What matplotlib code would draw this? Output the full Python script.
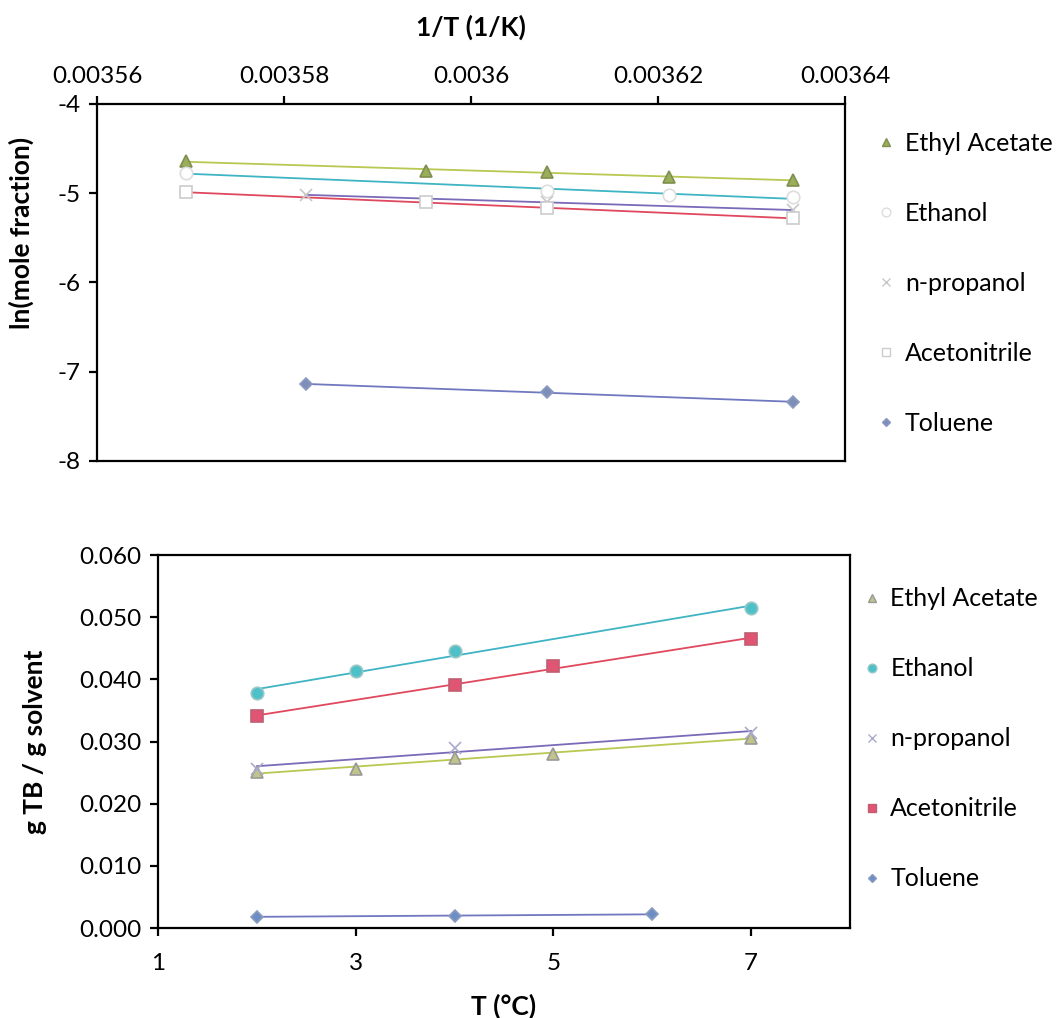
import numpy as np
import matplotlib
matplotlib.use('Agg')
import matplotlib.pyplot as plt
from matplotlib.lines import Line2D
from matplotlib.ticker import FormatStrFormatter

plt.rcParams['font.family'] = ['Lato', 'DejaVu Sans']
plt.rcParams['axes.unicode_minus'] = False

solvents = ['Ethyl Acetate', 'Ethanol', 'n-propanol', 'Acetonitrile', 'Toluene']

# top panel: ln(mole fraction) vs 1/T, temperatures in degC
top_temps = {
    'Ethyl Acetate': [7, 5, 4, 3, 2],
    'Ethanol': [7, 4, 3, 2],
    'n-propanol': [6, 4, 2],
    'Acetonitrile': [7, 5, 4, 2],
    'Toluene': [6, 4, 2],
}
top_ln = {
    'Ethyl Acetate': [-4.64, -4.75, -4.76, -4.82, -4.85],
    'Ethanol': [-4.77, -4.97, -5.02, -5.04],
    'n-propanol': [-5.02, -5.10, -5.19],
    'Acetonitrile': [-4.99, -5.10, -5.17, -5.28],
    'Toluene': [-7.14, -7.23, -7.34],
}

# bottom panel: g TB / g solvent vs T
bot_temps = {
    'Ethyl Acetate': [2, 3, 4, 5, 7],
    'Ethanol': [2, 3, 4, 7],
    'n-propanol': [2, 4, 7],
    'Acetonitrile': [2, 4, 5, 7],
    'Toluene': [2, 4, 6],
}
bot_sol = {
    'Ethyl Acetate': [0.0251, 0.0256, 0.0273, 0.0280, 0.0306],
    'Ethanol': [0.0378, 0.0413, 0.0446, 0.0515],
    'n-propanol': [0.0256, 0.0290, 0.0314],
    'Acetonitrile': [0.0341, 0.0391, 0.0421, 0.0465],
    'Toluene': [0.0018, 0.0020, 0.0022],
}

top_xticks = [0.00356, 0.00358, 0.0036, 0.00362, 0.00364]
top_xlabels = ['0.00356', '0.00358', '0.0036', '0.00362', '0.00364']

# marker styles (top / bottom), trendline colours
markers = {'Ethyl Acetate': '^', 'Ethanol': 'o', 'n-propanol': 'x',
           'Acetonitrile': 's', 'Toluene': 'D'}
line_col = {'Ethyl Acetate': '#b8c850', 'Ethanol': '#3fb4c4', 'n-propanol': '#7a6ab8',
            'Acetonitrile': '#e0485e', 'Toluene': '#7078c0'}
top_face = {'Ethyl Acetate': '#9aae5a', 'Ethanol': 'white', 'n-propanol': '#cccccc',
            'Acetonitrile': 'white', 'Toluene': '#7d8fb8'}
top_edge = {'Ethyl Acetate': '#7f8f50', 'Ethanol': '#dddddd', 'n-propanol': '#c8c8c8',
            'Acetonitrile': '#cccccc', 'Toluene': '#8d9ac0'}
bot_face = {'Ethyl Acetate': '#c0c38a', 'Ethanol': '#4ec0c8', 'n-propanol': '#bbbbcc',
            'Acetonitrile': '#e05474', 'Toluene': '#6d8ec4'}
bot_edge = {'Ethyl Acetate': '#999999', 'Ethanol': '#9ac8c8', 'n-propanol': '#aaaacc',
            'Acetonitrile': '#c06070', 'Toluene': '#8a9cc0'}
ms = {'Ethyl Acetate': 9, 'Ethanol': 9, 'n-propanol': 9, 'Acetonitrile': 8.5, 'Toluene': 6.5}

fig = plt.figure(figsize=(10.57, 10.18), dpi=100)
ax1 = fig.add_axes([0.0918, 0.5472, 0.7077, 0.3507])
ax2 = fig.add_axes([0.1495, 0.0884, 0.6547, 0.3664])

tick_fs = 17.5
leg_fs = 18
lab_fs = 19


def trend(ax, x, y, color):
    p = np.polyfit(x, y, 1)
    xs = np.array([min(x), max(x)])
    ax.plot(xs, np.polyval(p, xs), color=color, lw=1.3, zorder=2)


handles1 = []
for s in solvents:
    x = 1.0 / (np.array(top_temps[s]) + 273.15)
    y = np.array(top_ln[s])
    ax1.plot(x, y, ls='none', marker=markers[s], ms=ms[s], mfc=top_face[s],
             mec=top_edge[s], mew=1.2, zorder=3)
    trend(ax1, x, y, line_col[s])
    handles1.append(Line2D([], [], ls='none', marker=markers[s], ms=ms[s] * 0.7,
                           mfc=top_face[s], mec=top_edge[s], mew=1.0, label=s))

handles2 = []
for s in solvents:
    x = np.array(bot_temps[s], dtype=float)
    y = np.array(bot_sol[s])
    ax2.plot(x, y, ls='none', marker=markers[s], ms=ms[s], mfc=bot_face[s],
             mec=bot_edge[s], mew=1.2, zorder=3)
    trend(ax2, x, y, line_col[s])
    handles2.append(Line2D([], [], ls='none', marker=markers[s], ms=ms[s] * 0.7,
                           mfc=bot_face[s], mec=bot_edge[s], mew=1.0, label=s))

# top axes
ax1.set_xlim(0.00356, 0.00364)
ax1.set_ylim(-8, -4)
ax1.xaxis.tick_top()
ax1.xaxis.set_label_position('top')
ax1.set_xticks(top_xticks)
ax1.set_xticklabels(top_xlabels)
ax1.set_yticks([-4, -5, -6, -7, -8])
ax1.set_xlabel('1/T (1/K)', fontsize=lab_fs, fontweight='bold', labelpad=22)
ax1.set_ylabel('ln(mole fraction)', fontsize=lab_fs, fontweight='bold')
ax1.yaxis.set_label_coords(-0.084, 0.64)
ax1.legend(handles=handles1, loc='upper left', bbox_to_anchor=(1.03, 0.95),
           frameon=False, fontsize=leg_fs, labelspacing=1.88, handlelength=0.7,
           handletextpad=0.4, borderaxespad=0)

# bottom axes
ax2.set_xlim(1, 8)
ax2.set_ylim(0, 0.06)
ax2.set_xticks([1, 3, 5, 7])
ax2.set_yticks(np.arange(0, 0.0601, 0.01))
ax2.yaxis.set_major_formatter(FormatStrFormatter('%.3f'))
ax2.set_xlabel('T (°C)', fontsize=lab_fs, fontweight='bold', labelpad=14)
ax2.set_ylabel('g TB / g solvent', fontsize=lab_fs, fontweight='bold')
ax2.yaxis.set_label_coords(-0.16, 0.5)
ax2.legend(handles=handles2, loc='upper left', bbox_to_anchor=(1.004, 0.94),
           frameon=False, fontsize=leg_fs, labelspacing=1.88, handlelength=0.7,
           handletextpad=0.4, borderaxespad=0)

for ax in (ax1, ax2):
    for sp in ax.spines.values():
        sp.set_linewidth(1.6)
        sp.set_color('black')
    ax.tick_params(direction='out', length=6, width=1.6, labelsize=tick_fs, pad=6)
ax2.tick_params(axis='x', pad=12)

fig.savefig('out.png', dpi=100, facecolor='white')
